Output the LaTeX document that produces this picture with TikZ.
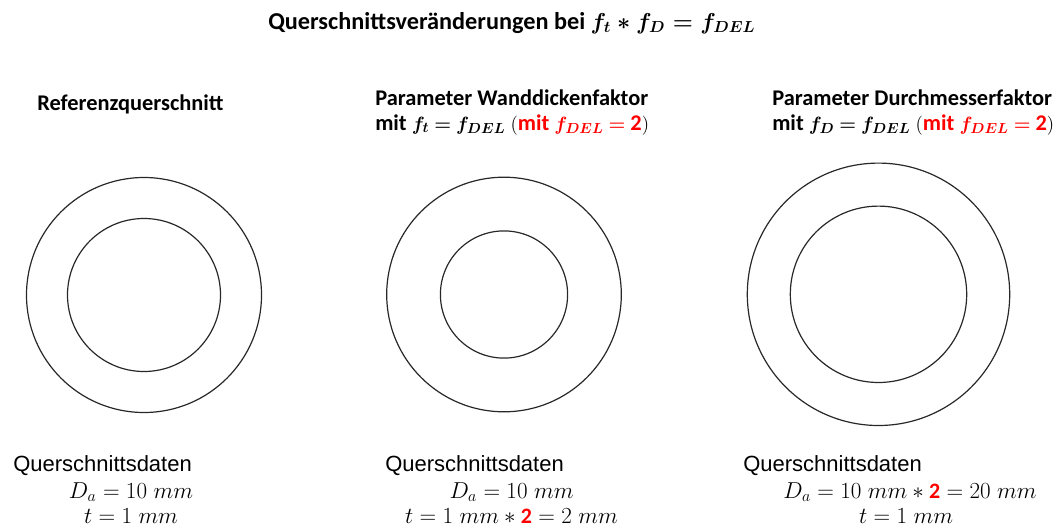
\documentclass[tikz,border=0pt]{standalone}
\usepackage[no-math]{fontspec}
\setmainfont{Carlito}
\newfontfamily\arialf{Liberation Sans}
\definecolor{hl}{RGB}{255,0,0}
\definecolor{ringc}{RGB}{40,40,40}
\tikzset{
  ring/.style={draw=ringc, line width=0.9pt},
  titletext/.style={inner sep=0pt, anchor=base west, font=\fontsize{18.2}{22}\selectfont\bfseries},
  headtext/.style={inner sep=0pt, anchor=base west, font=\fontsize{16.8}{20}\selectfont\bfseries},
  datahead/.style={inner sep=0pt, anchor=base west, font=\fontsize{16.5}{20}\selectfont\arialf},
  dataline/.style={inner sep=0pt, anchor=base, text height=11pt, text depth=2pt, font=\fontsize{16.5}{20}\selectfont},
}
\newcommand{\hlb}[1]{\textcolor{hl}{#1}}
\newcommand{\hm}[1]{{\fontsize{15.6}{18}\selectfont\boldmath\thickmuskip=4mu$#1$}}
\newcommand{\hp}[1]{{\fontsize{15.6}{18}\selectfont\mdseries$#1$}}
\newcommand{\htwo}{\mbox{\fontsize{16.8}{20}\selectfont\bfseries 2}}
\begin{document}
\begin{tikzpicture}[x=0.75pt, y=-0.75pt]
\useasboundingbox (0,0) rectangle (1059,528);
% title
\node[titletext] (title) at (268,29.5) {Querschnittsveränderungen bei {\fontsize{17}{20}\selectfont\boldmath$f_t\ast f_D=f_{DEL}$}};
% headers
\node[headtext] (h1) at (37,110.7) {Referenzquerschnitt};
\node[headtext] (h2a) at (375,105.5) {Parameter Wanddickenfaktor};
\node[headtext] (h2b) at (375,130) {mit \hm{f_t=f_{DEL}} \hp{(}\hlb{mit \hm{f_{DEL}=\htwo}}\hp{)}};
\node[headtext] (h3a) at (772,105.5) {Parameter Durchmesserfaktor};
\node[headtext] (h3b) at (772,130) {mit \hm{f_D=f_{DEL}} \hp{(}\hlb{mit \hm{f_{DEL}=\htwo}}\hp{)}};
% circles
\coordinate (c1) at (144,295);
\coordinate (c2) at (504,294.5);
\coordinate (c3) at (878.5,294.3);
\draw[ring] (c1) circle[radius=117.5];
\draw[ring] (c1) circle[radius=76.5];
\draw[ring] (c2) circle[radius=117.3];
\draw[ring] (c2) circle[radius=63.6];
\draw[ring] (c3) circle[radius=131.2];
\draw[ring] (c3) circle[radius=88.2];
% data
\node[datahead] (d1) at (13,471.7) {Querschnittsdaten};
\node[dataline] (d1a) at (131,498.3) {$D_a=10\;mm$};
\node[dataline] (d1b) at (131,523.3) {$t=1\;mm$};
\node[datahead] (d2) at (385,471.7) {Querschnittsdaten};
\node[dataline] (d2a) at (511.5,498.3) {$D_a=10\;mm$};
\node[dataline] (d2b) at (511.5,523.3) {$t=1\;mm\ast\hlb{\textbf{2}}=2\;mm$};
\node[datahead] (d3) at (743,471.7) {Querschnittsdaten};
\node[dataline] (d3a) at (910,498.3) {$D_a=10\;mm\ast\hlb{\textbf{2}}=20\;mm$};
\node[dataline] (d3b) at (906,523.3) {$t=1\;mm$};
\end{tikzpicture}
\end{document}
